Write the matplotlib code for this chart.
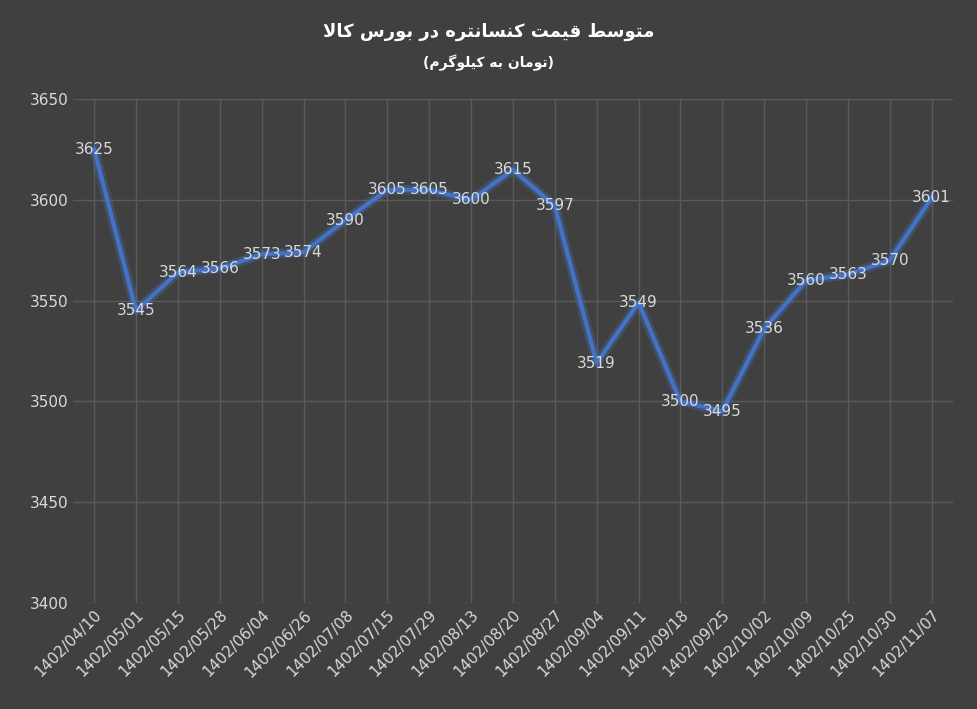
import matplotlib.pyplot as plt
import matplotlib.patheffects as pe

dates = ["1402/04/10", "1402/05/01", "1402/05/15", "1402/05/28", "1402/06/04", "1402/06/26",
         "1402/07/08", "1402/07/15", "1402/07/29", "1402/08/13", "1402/08/20", "1402/08/27",
         "1402/09/04", "1402/09/11", "1402/09/18", "1402/09/25", "1402/10/02", "1402/10/09",
         "1402/10/25", "1402/10/30", "1402/11/07"]
prices = [3625, 3545, 3564, 3566, 3573, 3574, 3590, 3605, 3605, 3600, 3615, 3597,
          3519, 3549, 3500, 3495, 3536, 3560, 3563, 3570, 3601]
title = "متوسط قیمت کنسانتره در بورس کالا"
subtitle = "(تومان به کیلوگرم)"

# minimal arabic shaping (iso, fin, ini, med)
F = {'ا': (0xFE8D, 0xFE8E, None, None), 'ب': (0xFE8F, 0xFE90, 0xFE91, 0xFE92),
     'ت': (0xFE95, 0xFE96, 0xFE97, 0xFE98), 'د': (0xFEA9, 0xFEAA, None, None),
     'ر': (0xFEAD, 0xFEAE, None, None), 'س': (0xFEB1, 0xFEB2, 0xFEB3, 0xFEB4),
     'ط': (0xFEC1, 0xFEC2, 0xFEC3, 0xFEC4), 'ق': (0xFED5, 0xFED6, 0xFED7, 0xFED8),
     'ل': (0xFEDD, 0xFEDE, 0xFEDF, 0xFEE0), 'م': (0xFEE1, 0xFEE2, 0xFEE3, 0xFEE4),
     'ن': (0xFEE5, 0xFEE6, 0xFEE7, 0xFEE8), 'ه': (0xFEE9, 0xFEEA, 0xFEEB, 0xFEEC),
     'و': (0xFEED, 0xFEEE, None, None), 'ی': (0xFBFC, 0xFBFD, 0xFBFE, 0xFBFF),
     'ک': (0xFB8E, 0xFB8F, 0xFB90, 0xFB91), 'گ': (0xFB92, 0xFB93, 0xFB94, 0xFB95),
     'ﻻ': (0xFEFB, 0xFEFC, None, None)}

def shape(s):
    s = s.replace('لا', 'ﻻ')
    out = []
    for i, c in enumerate(s):
        if c not in F:
            out.append({'(': ')', ')': '('}.get(c, c)); continue
        prev = s[i-1] if i > 0 else ''
        nxt = s[i+1] if i + 1 < len(s) else ''
        jp = prev in F and F[prev][2] is not None
        jn = nxt in F and F[c][2] is not None
        f = F[c]
        code = f[3] if jp and jn else f[1] if jp else f[2] if jn else f[0]
        out.append(chr(code))
    return ''.join(out[::-1])

bg = '#404040'
fig, ax = plt.subplots(figsize=(9.77, 7.09), dpi=100)
fig.patch.set_facecolor(bg)
ax.set_facecolor(bg)
fig.subplots_adjust(left=0.075, right=0.975, top=0.86, bottom=0.15)
x = list(range(len(dates)))
ax.plot(x, prices, color='#4472C4', lw=3, solid_joinstyle='round',
        path_effects=[pe.Stroke(linewidth=7, foreground='#4472C4', alpha=0.3), pe.Normal()])
for i, v in enumerate(prices):
    ax.text(i, v, str(v), color='#d9d9d9', fontsize=11, ha='center', va='center')
ax.set_ylim(3400, 3650)
ax.set_yticks(range(3400, 3651, 50))
ax.set_xlim(-0.5, len(dates) - 0.5)
ax.set_xticks(x)
ax.set_xticklabels(dates, rotation=45, ha='right', rotation_mode='anchor')
ax.tick_params(colors='#d9d9d9', labelsize=11, length=0)
ax.grid(True, color='#5a5a5a', lw=1)
for s in ax.spines.values():
    s.set_visible(False)
fig.text(0.5, 0.955, shape(title), color='white', fontsize=13, fontweight='bold', ha='center', va='center')
fig.text(0.5, 0.912, shape(subtitle), color='white', fontsize=10, fontweight='bold', ha='center', va='center')
fig.savefig('out.png', facecolor=bg)
